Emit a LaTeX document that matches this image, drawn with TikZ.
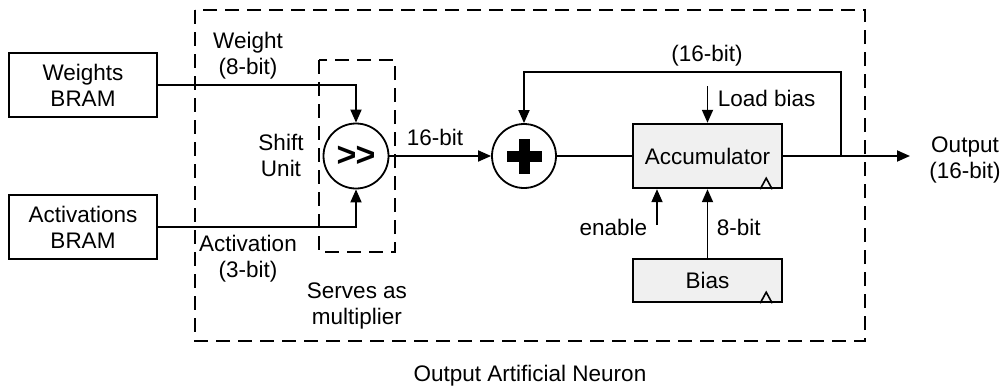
\documentclass[tikz,border=0pt]{standalone}
\usepackage{fontspec}
\setmainfont{Liberation Sans}
\usetikzlibrary{arrows.meta}
\begin{document}
\begin{tikzpicture}[x=1pt,y=-1pt,
  font=\fontsize{22.5}{26}\selectfont,
  line width=1.8pt,
  >={Triangle[length=13pt,width=11pt]},
  blk/.style={draw, line width=2.4pt, inner sep=0pt, align=center},
  reg/.style={blk, fill=gray!12},
  op/.style={circle, draw, line width=1.8pt, inner sep=0pt, minimum size=64pt},
  dbox/.style={draw, line width=2.4pt, dash pattern=on 14pt off 8pt},
  lbl/.style={align=center, inner sep=0pt}]
\useasboundingbox (0,0) rectangle (1005,391);

% dashed frames
\draw[dbox] (195,10) rectangle (865,341);
\draw[dbox] (319,60) rectangle (395,252);

% blocks
\node[blk, minimum width=148pt, minimum height=64pt] (wb) at (83,85) {Weights\\BRAM};
\node[blk, minimum width=148pt, minimum height=64pt] (ab) at (83,227) {Activations\\BRAM};
\node[op, minimum size=65pt, fill=white] (sh) at (356,156) {\fontsize{34}{34}\selectfont\bfseries {>}\kern-1pt{>}};
\node[op] (pl) at (524,156) {};
\fill (pl.center) +(-17.5,-5.5) rectangle +(17.5,5.5);
\fill (pl.center) +(-5.5,-17.5) rectangle +(5.5,17.5);
\node[reg, minimum width=149pt, minimum height=64pt] (acc) at (707.5,156) {Accumulator};
\node[reg, minimum width=149pt, minimum height=43pt] (bias) at (707.5,280.5) {Bias};
\draw[line width=1.6pt] ([xshift=-23pt]acc.south east) -- ++(6,-11) -- ++(6,11);
\draw[line width=1.6pt] ([xshift=-23pt]bias.south east) -- ++(6,-11) -- ++(6,11);

% coordinates
\coordinate (tap) at (841,156);
\coordinate (fb) at (841,72);
\coordinate (out) at (910,156);
\coordinate (lb) at (707.5,86);
\coordinate (en) at (657,225);

% connectors
\draw[->] (wb.east) -| (sh.north);
\draw[->] (ab.east) -| (sh.south);
\draw[->] (sh.east) -- (pl.west);
\draw (pl.east) -- (acc.west);
\draw[->] (acc.east) -- (out);
\draw[->] (tap) -- (fb) -| (pl.north);
\draw[->] (lb) -- (acc.north);
\draw[->] (en) -- (en |- acc.south);
\draw[->] (bias.north) -- (acc.south);

% labels
\node[lbl] (lw) at (248,56) {Weight\\(8-bit)};
\node[lbl] (ls) at (281,155) {Shift\\Unit};
\node[lbl] (la) at (248,259) {Activation\\(3-bit)};
\node[lbl] (lm) at (357,306) {Serves as\\multiplier};
\node[lbl] (l16) at (435,137) {16-bit};
\node[lbl] (lfb) at (707,56) {(16-bit)};
\node[lbl, anchor=west] (llb) at (717,98) {Load bias};
\node[lbl, anchor=east] (len) at (648,227) {enable};
\node[lbl, anchor=west] (l8) at (716,227) {8-bit};
\node[lbl] (lo) at (965,160) {Output\\(16-bit)};
\node[lbl] (cap) at (530,376) {Output Artificial Neuron};
\end{tikzpicture}
\end{document}
